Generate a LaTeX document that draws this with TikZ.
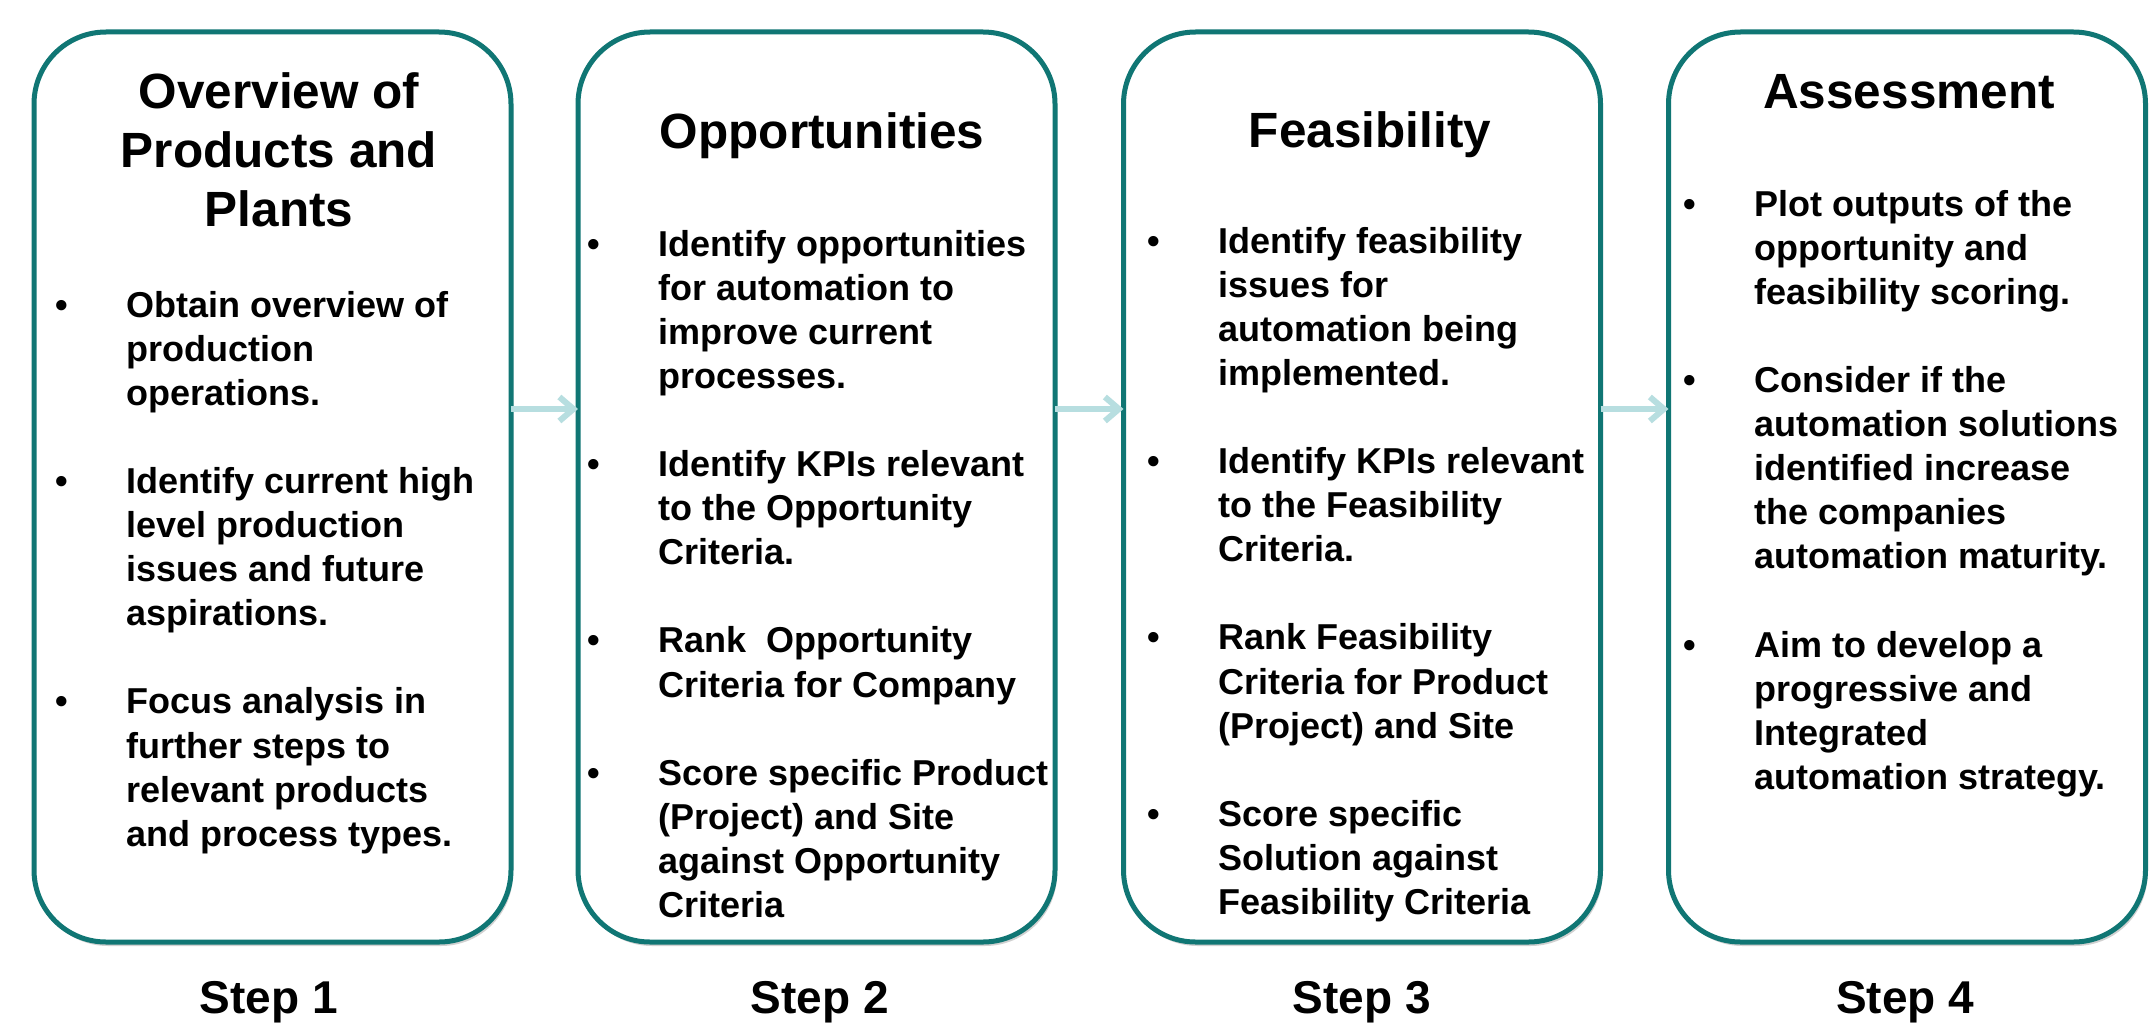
\documentclass[tikz,border=0pt]{standalone}
\usepackage{fontspec}
\setmainfont{Liberation Sans}
\usetikzlibrary{arrows.meta,shadows}
\definecolor{boxteal}{RGB}{16,118,116}
\definecolor{arrowblue}{RGB}{183,222,224}
\newcommand\bul{\llap{•\hspace{58pt}}}
\tikzset{
  stepbox/.style={draw=boxteal, line width=5pt, fill=white, rounded corners=72pt,
    minimum width=477pt, minimum height=910pt, inner sep=0pt, outer sep=0pt,
    drop shadow={shadow xshift=2pt, shadow yshift=-4pt, opacity=0.18, fill=black}},
  titletext/.style={anchor=base, inner sep=0pt, font=\bfseries\fontsize{49.5}{59}\selectfont},
  bodytext/.style={anchor=base west, inner sep=0pt, font=\bfseries\fontsize{36}{44.1}\selectfont},
  steplabel/.style={anchor=base, inner sep=0pt, font=\bfseries\fontsize{46}{55}\selectfont},
  flow/.style={draw=arrowblue, line width=6pt, -{Straight Barb[length=14pt,width=24pt]}}
}
\begin{document}
\begin{tikzpicture}[x=1pt,y=-1pt]
\useasboundingbox[fill=white] (0,0) rectangle (2149,1025);
% boxes
\node[stepbox] (b1) at (272.5,487) {};
\node[stepbox] (b2) at (816.5,487) {};
\node[stepbox] (b3) at (1362,487) {};
\node[stepbox] (b4) at (1907,487) {};
% arrows
\draw[flow] ([yshift=78pt]b1.east) -- ([yshift=78pt]b2.west);
\draw[flow] ([yshift=78pt]b2.east) -- ([yshift=78pt]b3.west);
\draw[flow] ([yshift=78pt]b3.east) -- ([yshift=78pt]b4.west);
% titles
\node[titletext] (t1) at (279,108) {\begin{tabular}[t]{@{}c@{}}Overview of\\ Products and\\ Plants\end{tabular}};
\node[titletext] (t2) at (822,148) {Opportunities};
\node[titletext] (t3) at (1370,147) {Feasibility};
\node[titletext] (t4) at (1909,108) {Assessment};
% bodies
\node[bodytext] (x1) at (126,317) {\begin{tabular}[t]{@{}l@{}}
\bul Obtain overview of\\ production\\ operations.\\ \\
\bul Identify current high\\ level production\\ issues and future\\ aspirations.\\ \\
\bul Focus analysis in\\ further steps to\\ relevant products\\ and process types.
\end{tabular}};
\node[bodytext] (x2) at (658,256) {\begin{tabular}[t]{@{}l@{}}
\bul Identify opportunities\\ for automation to\\ improve current\\ processes.\\ \\
\bul Identify KPIs relevant\\ to the Opportunity\\ Criteria.\\ \\
\bul Rank~ Opportunity\\ Criteria for Company\\ \\
\bul Score specific Product\\ (Project) and Site\\ against Opportunity\\ Criteria
\end{tabular}};
\node[bodytext] (x3) at (1218,253) {\begin{tabular}[t]{@{}l@{}}
\bul Identify feasibility\\ issues for\\ automation being\\ implemented.\\ \\
\bul Identify KPIs relevant\\ to the Feasibility\\ Criteria.\\ \\
\bul Rank Feasibility\\ Criteria for Product\\ (Project) and Site\\ \\
\bul Score specific\\ Solution against\\ Feasibility Criteria
\end{tabular}};
\node[bodytext] (x4) at (1754,216) {\begin{tabular}[t]{@{}l@{}}
\bul Plot outputs of the\\ opportunity and\\ feasibility scoring.\\ \\
\bul Consider if the\\ automation solutions\\ identified increase\\ the companies\\ automation maturity.\\ \\
\bul Aim to develop a\\ progressive and\\ Integrated\\ automation strategy.
\end{tabular}};
% step labels
\node[steplabel] (s1) at (268.6,1013) {Step 1};
\node[steplabel] (s2) at (820,1013) {Step 2};
\node[steplabel] (s3) at (1362,1013) {Step 3};
\node[steplabel] (s4) at (1905,1013) {Step 4};
\end{tikzpicture}
\end{document}
